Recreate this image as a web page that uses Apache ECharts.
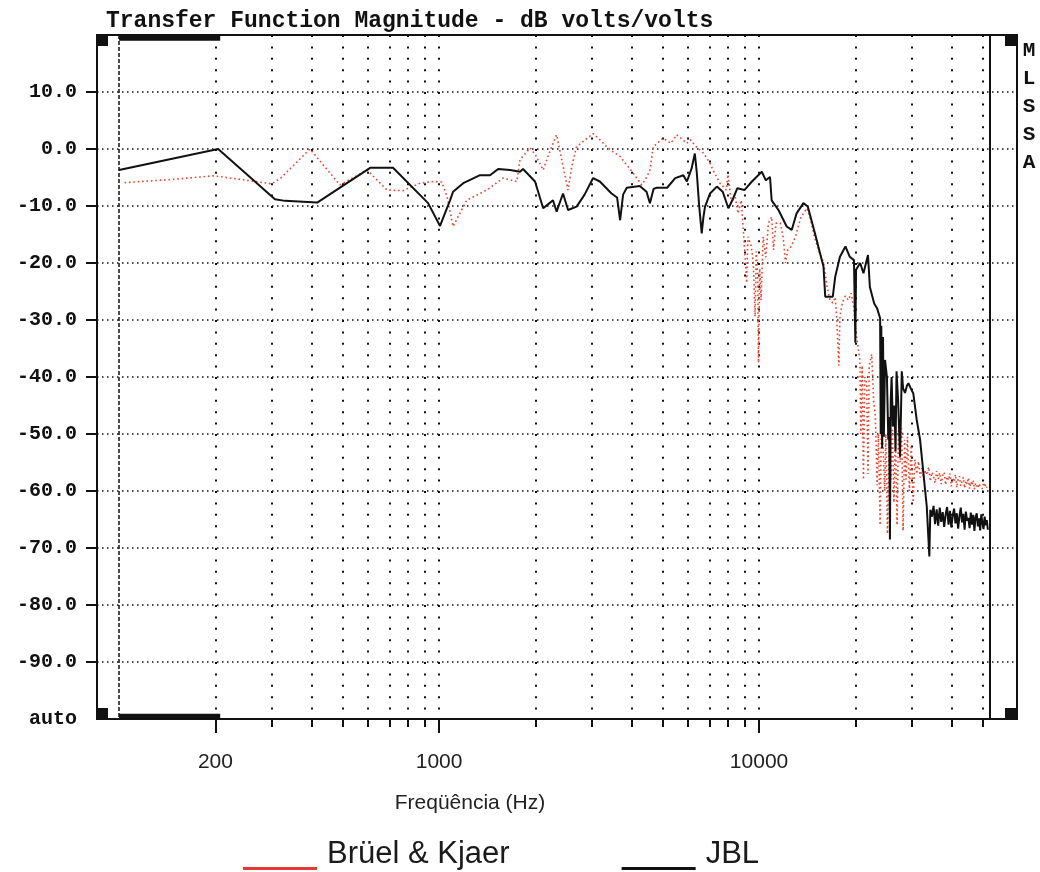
<!DOCTYPE html>
<html>
<head>
<meta charset="utf-8">
<title>Transfer Function Magnitude</title>
<script src="https://cdn.jsdelivr.net/npm/echarts@6/dist/echarts.min.js"></script>
<style>
  html, body { margin: 0; padding: 0; background: #fff; }
  #chart { width: 1040px; height: 872px; }
</style>
</head>
<body>
<div id="chart"></div>
<script>
// axis stuff
const gridFreqs = [200, 300, 400, 500, 600, 700, 800, 900, 1000,
  2000, 3000, 4000, 5000, 6000, 7000, 8000, 9000, 10000,
  20000, 30000, 40000, 50000];
const labelFreqs = [200, 1000, 10000];
const dbTicks = [-90, -80, -70, -60, -50, -40, -30, -20, -10, 0, 10];
const dbLabels = [-100, -90, -80, -70, -60, -50, -40, -30, -20, -10, 0, 10];

// Brüel & Kjaer (red, dotted)
const bkFreq = [104, 150, 197, 244, 300, 320, 395, 490, 596, 688, 772, 873, 960, 1020, 1060,
  1106, 1220, 1410, 1585, 1750, 1790, 1925, 2000, 2115, 2200, 2330, 2420, 2530, 2600, 2690,
  2850, 3030, 3200, 3340, 3500, 3680, 4040, 4300, 4450, 4560, 4670, 5010, 5300, 5530, 5950,
  6100, 6390, 6700, 7030, 7180, 7550, 7900, 8000, 8200, 8400, 8600, 8800, 8930, 9150, 9230,
  9450, 9600, 9720, 9800, 9900, 9960, 10050, 10150, 10300, 10500, 10700, 10950, 11100, 11300, 11650,
  11900, 12100, 12300, 12600, 13000, 13500, 14130, 14500, 14900, 15400, 15930, 16300, 16660, 17000, 17300,
  17500, 17760, 17900, 18200, 18600, 19000, 19400, 19800, 20000, 20300, 20660, 20800, 21000, 21200, 21400,
  21700, 21900, 22100, 22500, 22800, 23100, 23400, 23600, 23900, 24100, 24400, 24700, 24900, 25200, 25500,
  25800, 26100, 26400, 26700, 27000, 27300, 27600, 27900, 28200, 28500, 28800, 29100, 29500, 29900, 30300,
  30700, 31100, 31500, 31900, 32300, 32700, 33100, 33500, 33900, 34300, 34700, 35100, 35500, 35900, 36300,
  36700, 37100, 37500, 37900, 38300, 38700, 39100, 39500, 39900, 40300, 40700, 41100, 41500, 41900, 42300,
  42700, 43100, 43500, 43900, 44300, 44700, 45100, 45500, 45900, 46300, 46700, 47100, 47500, 47900, 48300,
  48700, 49100, 49500, 49900, 50300, 50700, 51100, 51500, 51900];
const bkDb = [-5.9, -5.3, -4.7, -5.4, -6.1, -5.1, 0, -6.3, -3.7, -7.2, -7.3, -6.0, -5.7, -5.8, -8.4,
  -13.6, -9.0, -7.2, -5.1, -5.7, -1.9, 0.2, -1.0, -3.7, -1.0, 2.5, -2.0, -7.2, -3.0, 0.4,
  1.5, 2.7, 1.5, 0.4, -0.5, -1.3, -4.2, -6.3, -5.0, -3.7, 0.4, 1.9, 1.0, 2.5, 1.0,
  1.6, 0.3, -0.7, -2.5, -3.7, -6.0, -7.2, -4.5, -9.5, -8.0, -11.3, -9.0, -14.2, -23.5, -15.4,
  -17.0, -20.0, -29.4, -18.0, -22.0, -37.5, -21.0, -26.5, -15.4, -19.0, -13.0, -11.9, -17.7, -13.0, -13.0,
  -15.5, -20.0, -17.7, -17.1, -15.4, -12.0, -10.4, -12.5, -15.4, -18.0, -20.0, -24.0, -26.5, -27.0, -26.0,
  -30.0, -38.0, -29.4, -27.0, -25.8, -26.5, -25.3, -28.0, -31.0, -34.0, -37.0, -50.0, -38.0, -58.0, -40.0,
  -41.0, -57.0, -38.0, -36.0, -44.0, -47.0, -59.0, -50.0, -66.0, -49.0, -52.0, -60.0, -50.0, -67.5, -51.0,
  -58.0, -49.0, -62.0, -50.0, -66.0, -48.7, -55.0, -49.0, -67.0, -51.0, -58.0, -50.5, -60.0, -52.0, -62.0,
  -54.5, -57.0, -54.8, -57.6, -55.9, -58.1, -56.4, -57.2, -55.8, -58.3, -56.7, -57.4, -58.6, -56.5, -57.9,
  -56.8, -58.8, -57.2, -56.7, -58.9, -57.5, -58.1, -56.9, -59.2, -57.8, -58.4, -57.1, -59.4, -58.0, -57.4,
  -59.1, -58.3, -57.6, -59.5, -58.2, -58.8, -57.7, -59.6, -58.4, -59.0, -58.1, -59.7, -58.6, -58.3, -59.5,
  -58.7, -59.2, -58.9, -59.6, -58.5, -59.3, -58.8, -59.4, -58.9];

// JBL (black, solid)
const jblFreq = [100, 204, 307, 330, 416, 609, 718, 924, 1007, 1082, 1106, 1190, 1343, 1443, 1530,
  1667, 1790, 1830, 1995, 2115, 2180, 2270, 2330, 2440, 2530, 2690, 2850, 3030, 3180, 3460,
  3600, 3680, 3760, 3860, 4240, 4450, 4560, 4680, 4790, 5160, 5470, 5800, 5950, 6150, 6300,
  6390, 6500, 6620, 6700, 6780, 7030, 7380, 7700, 8020, 8250, 8550, 9000, 9500, 10200, 10500,
  10820, 10950, 11500, 12200, 12650, 13100, 13760, 14200, 14950, 15510, 15900, 16100, 17000, 17300, 17900,
  18620, 19200, 19800, 20000, 20100, 20700, 21200, 21900, 22200, 22900, 23400, 23900, 24000, 24100, 24250,
  24400, 24550, 24760, 25100, 25350, 25500, 25650, 25800, 25960, 26200, 26500, 26700, 26900, 27200, 27580,
  27800, 27930, 28200, 28590, 29000, 29300, 29800, 30350, 31100, 31860, 32640, 33430, 34060, 34300, 34700,
  35100, 35500, 35900, 36300, 36700, 37100, 37500, 37900, 38300, 38700, 39100, 39500, 39900, 40300, 40700,
  41100, 41500, 41900, 42300, 42700, 43100, 43500, 43900, 44300, 44700, 45100, 45500, 45900, 46300, 46700,
  47100, 47500, 47900, 48300, 48700, 49100, 49500, 49900, 50300, 50700, 51100, 51500, 51900];
const jblDb = [-3.7, 0, -8.8, -9.1, -9.4, -3.3, -3.3, -9.5, -13.5, -9.0, -7.5, -6.0, -4.6, -4.6, -3.5,
  -3.7, -4.0, -3.5, -5.7, -10.4, -9.8, -9.0, -11.0, -7.8, -10.7, -10.1, -8.0, -5.1, -5.7, -7.8,
  -8.5, -12.5, -8.0, -6.8, -6.5, -7.5, -9.5, -7.0, -6.8, -6.8, -5.1, -4.6, -5.7, -3.5, -0.8,
  -4.2, -10.0, -14.8, -12.0, -10.1, -7.8, -6.6, -7.5, -10.4, -9.0, -6.9, -7.2, -5.7, -4.0, -5.5,
  -4.9, -9.0, -10.7, -13.6, -14.2, -11.3, -9.5, -10.1, -14.8, -18.3, -20.6, -25.9, -25.9, -22.4, -18.9,
  -17.1, -18.9, -19.5, -34.0, -21.2, -20.0, -21.8, -18.6, -24.2, -27.1, -28.0, -29.7, -50.0, -31.0, -52.5,
  -33.0, -50.5, -37.0, -40.0, -51.0, -47.0, -68.5, -44.0, -40.0, -48.7, -45.0, -53.0, -39.0, -44.0, -54.0,
  -45.0, -39.0, -42.0, -42.8, -41.5, -41.1, -42.0, -42.9, -47.5, -51.0, -56.9, -62.7, -71.5, -63.3, -64.5,
  -62.6, -65.8, -63.2, -66.1, -62.9, -65.4, -63.7, -66.3, -64.1, -62.8, -65.9, -63.5, -66.4, -64.3, -63.1,
  -65.7, -63.9, -66.6, -64.4, -62.9, -65.5, -64.0, -66.8, -63.6, -65.2, -64.7, -66.5, -63.8, -65.9, -64.2,
  -67.0, -64.6, -63.9, -66.2, -64.8, -66.9, -64.1, -65.6, -66.7, -64.5, -66.0, -65.1, -66.8];

// analyser frame markers (cursor at 100 Hz, upper limit line)
const cursorFreq = 100;
const cursorEndFreq = 207;
const limitFreq = 52500;

const pairs = (fs, vs) => fs.map((f, i) => [f, vs[i]]);

const ink = '#111';
const red = '#e8442e';
const mono = '"Liberation Mono", "DejaVu Sans Mono", monospace';
const sans = '"Liberation Sans", Arial, sans-serif';

// legend icon: a short bar sitting under the text baseline
const underline = 'path://M0,0 M0,29 L74,29 L74,32 L0,32 Z';

const chart = echarts.init(document.getElementById('chart'));

const option = {
  backgroundColor: '#fff',
  animation: false,
  title: {
    text: 'Transfer Function Magnitude - dB volts/volts',
    left: 101,
    top: 5,
    textStyle: { fontFamily: mono, fontWeight: 'bold', fontSize: 23, color: ink }
  },
  legend: {
    data: [
      { name: 'Brüel & Kjaer', itemStyle: { color: '#e53935' } },
      { name: 'JBL', itemStyle: { color: ink } }
    ],
    left: 238,
    top: 833,
    icon: underline,
    itemWidth: 74,
    itemHeight: 32,
    itemGap: 112,
    itemStyle: { borderWidth: 0 },
    textStyle: { fontFamily: sans, fontSize: 31, color: '#1a1a1a', padding: [0, 0, 0, 5] }
  },
  grid: {
    left: 97, right: 23, top: 35, bottom: 153,
    show: true, borderColor: ink, borderWidth: 2
  },
  xAxis: [
    {
      type: 'log', min: 85.3, max: 64000, position: 'bottom',
      axisLine: { onZero: false, lineStyle: { color: ink, width: 2 } },
      axisTick: { customValues: gridFreqs, length: 8, lineStyle: { color: ink, width: 2 } },
      axisLabel: {
        customValues: labelFreqs, margin: 33,
        fontFamily: sans, fontSize: 21, color: '#222',
        formatter: v => String(Math.round(v))
      },
      splitLine: { show: true, lineStyle: { color: ink, width: 2, type: [2, 9.4] } },
      minorTick: { show: false },
      name: 'Freqüência (Hz)',
      nameLocation: 'middle',
      nameGap: 74,
      nameTextStyle: { fontFamily: sans, fontSize: 21, color: '#222', padding: [0, 174, 0, 0] }
    },
    {
      type: 'log', min: 85.3, max: 64000, position: 'bottom',
      axisLine: { show: false, onZero: false },
      axisTick: { customValues: labelFreqs, length: 14, lineStyle: { color: ink, width: 2 } },
      axisLabel: { show: false },
      splitLine: { show: false }
    }
  ],
  yAxis: {
    type: 'value', min: -100, max: 20, interval: 10,
    axisLine: { show: true, lineStyle: { color: ink, width: 2 } },
    axisTick: { show: true, customValues: dbTicks, length: 11, lineStyle: { color: ink, width: 2 } },
    axisLabel: {
      customValues: dbLabels, margin: 20,
      fontFamily: mono, fontWeight: 'bold', fontSize: 20, color: ink,
      formatter: v => (v === -100 ? 'auto' : v.toFixed(1))
    },
    splitLine: { show: true, lineStyle: { color: ink, width: 1.5, type: [1.5, 3.5] } }
  },
  graphic: [
    { type: 'rect', shape: { x: 97, y: 35, width: 11, height: 11 }, style: { fill: ink }, z: 100 },
    { type: 'rect', shape: { x: 97, y: 708, width: 11, height: 11 }, style: { fill: ink }, z: 100 },
    { type: 'rect', shape: { x: 1005, y: 35, width: 11, height: 11 }, style: { fill: ink }, z: 100 },
    { type: 'rect', shape: { x: 1005, y: 708, width: 11, height: 11 }, style: { fill: ink }, z: 100 },
    {
      type: 'text', x: 1029, y: 37, z: 100,
      style: {
        text: 'M\nL\nS\nS\nA', fill: ink, fontFamily: mono, fontWeight: 'bold',
        fontSize: 21, lineHeight: 28, align: 'center'
      }
    }
  ],
  series: [
    {
      name: 'Brüel & Kjaer',
      type: 'line',
      data: pairs(bkFreq, bkDb),
      showSymbol: false,
      z: 3,
      itemStyle: { color: '#e53935' },
      lineStyle: { color: red, width: 1.6, type: [1.6, 2.8] }
    },
    {
      name: 'JBL',
      type: 'line',
      data: pairs(jblFreq, jblDb),
      showSymbol: false,
      z: 4,
      itemStyle: { color: ink },
      lineStyle: { color: ink, width: 2 }
    },
    {
      name: 'cursor',
      type: 'line',
      data: [],
      markLine: {
        silent: true, symbol: 'none', label: { show: false },
        lineStyle: { color: ink, width: 1.5, type: [4, 2] },
        data: [[{ xAxis: cursorFreq, yAxis: 20 }, { xAxis: cursorFreq, yAxis: -100 }]]
      },
      markArea: {
        silent: true,
        itemStyle: { color: ink },
        data: [
          [{ xAxis: cursorFreq, yAxis: 20 }, { xAxis: cursorEndFreq, yAxis: 19 }],
          [{ xAxis: cursorFreq, yAxis: -99.1 }, { xAxis: cursorEndFreq, yAxis: -100 }]
        ]
      }
    },
    {
      name: 'limit',
      type: 'line',
      data: [],
      markLine: {
        silent: true, symbol: 'none', label: { show: false },
        lineStyle: { color: ink, width: 2, type: 'solid' },
        data: [[{ xAxis: limitFreq, yAxis: 20 }, { xAxis: limitFreq, yAxis: -100 }]]
      }
    }
  ]
};

chart.setOption(option);
</script>
</body>
</html>
